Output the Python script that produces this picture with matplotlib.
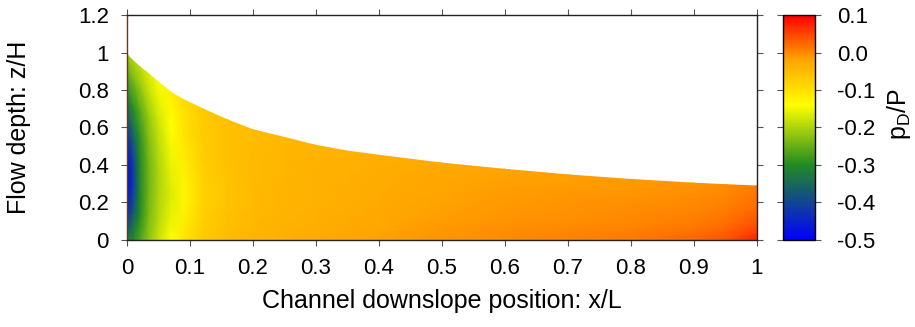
import numpy as np
import matplotlib
matplotlib.use("Agg")
import matplotlib.pyplot as plt
from matplotlib.colors import LinearSegmentedColormap, Normalize
from matplotlib.cm import ScalarMappable

plt.rcParams['font.family'] = ['Liberation Sans', 'DejaVu Sans']
plt.rcParams['mathtext.fontset'] = 'custom'
plt.rcParams['mathtext.rm'] = 'Liberation Sans'
plt.rcParams['mathtext.it'] = 'Liberation Sans'

# Downslope stations x/L and free-surface height z/H at each station
x_stations = [0.0, 0.01, 0.02, 0.035, 0.05, 0.07, 0.09, 0.12, 0.16, 0.2, 0.25,
              0.3, 0.35, 0.4, 0.5, 0.6, 0.7, 0.8, 0.9, 0.95, 1.0]
surface_height = [0.99, 0.955, 0.925, 0.885, 0.842, 0.787, 0.748, 0.70, 0.64, 0.588, 0.547,
                  0.505, 0.474, 0.452, 0.41, 0.377, 0.347, 0.323, 0.303, 0.295, 0.288]

# Fraction of local flow depth (bed = 0, free surface = 1)
depth_fraction = [0.0, 0.15, 0.3, 0.45, 0.6, 0.75, 0.9, 1.0]

# Dynamic pressure p_D/P, one profile (bed -> surface) per station
pressure_profiles = [
    [-0.33, -0.44, -0.50, -0.48, -0.41, -0.33, -0.26, -0.21],
    [-0.30, -0.37, -0.41, -0.40, -0.35, -0.29, -0.235, -0.20],
    [-0.27, -0.30, -0.31, -0.305, -0.29, -0.26, -0.215, -0.19],
    [-0.22, -0.235, -0.24, -0.24, -0.23, -0.21, -0.18, -0.165],
    [-0.18, -0.195, -0.20, -0.20, -0.19, -0.175, -0.155, -0.145],
    [-0.14, -0.155, -0.165, -0.16, -0.15, -0.14, -0.13, -0.12],
    [-0.105, -0.12, -0.13, -0.125, -0.115, -0.105, -0.10, -0.095],
    [-0.07, -0.078, -0.082, -0.08, -0.076, -0.073, -0.072, -0.07],
    [-0.052, -0.056, -0.06, -0.06, -0.058, -0.058, -0.058, -0.058],
    [-0.042, -0.046, -0.049, -0.05, -0.05, -0.05, -0.051, -0.052],
    [-0.034, -0.038, -0.041, -0.042, -0.043, -0.044, -0.045, -0.046],
    [-0.028, -0.032, -0.035, -0.036, -0.037, -0.038, -0.04, -0.041],
    [-0.023, -0.027, -0.03, -0.032, -0.033, -0.034, -0.036, -0.037],
    [-0.018, -0.022, -0.026, -0.028, -0.03, -0.031, -0.033, -0.034],
    [-0.008, -0.012, -0.016, -0.019, -0.021, -0.023, -0.026, -0.028],
    [-0.001, -0.005, -0.009, -0.012, -0.014, -0.016, -0.019, -0.021],
    [0.005, 0.0, -0.004, -0.007, -0.009, -0.012, -0.015, -0.017],
    [0.012, 0.006, 0.001, -0.002, -0.005, -0.008, -0.011, -0.014],
    [0.026, 0.016, 0.009, 0.004, 0.0, -0.003, -0.007, -0.009],
    [0.041, 0.029, 0.019, 0.013, 0.007, 0.003, -0.001, -0.003],
    [0.075, 0.055, 0.04, 0.03, 0.022, 0.016, 0.012, 0.01],
]

x_ticks = [0.0, 0.1, 0.2, 0.3, 0.4, 0.5, 0.6, 0.7, 0.8, 0.9, 1.0]
x_tick_labels = ['0', '0.1', '0.2', '0.3', '0.4', '0.5', '0.6', '0.7', '0.8', '0.9', '1']
z_ticks = [0.0, 0.2, 0.4, 0.6, 0.8, 1.0, 1.2]
z_tick_labels = ['0', '0.2', '0.4', '0.6', '0.8', '1', '1.2']
cbar_ticks = [-0.5, -0.4, -0.3, -0.2, -0.1, 0.0, 0.1]
cbar_tick_labels = ['-0.5', '-0.4', '-0.3', '-0.2', '-0.1', '0.0', '0.1']

# Palette: blue -> forest green -> yellow -> orange -> red over [-0.5, 0.1]
vmin, vmax = -0.5, 0.1
palette_stops = [(-0.5, '#0000ff'), (-0.3, '#228b22'), (-0.14, '#ffff00'),
                 (-0.02, '#ffa500'), (0.1, '#ff0000')]
cmap = LinearSegmentedColormap.from_list(
    'pd', [((v - vmin) / (vmax - vmin), c) for v, c in palette_stops])
norm = Normalize(vmin=vmin, vmax=vmax)

TICK_FS = 16
LABEL_FS = 18

fig = plt.figure(figsize=(9.15, 3.27), dpi=100)
ax = fig.add_axes([0.1388, 0.2661, 0.8273 - 0.1388, 0.9541 - 0.2661])
cax = fig.add_axes([0.8557, 0.2661, 0.8907 - 0.8557, 0.9541 - 0.2661])

xs = np.asarray(x_stations)
hs = np.asarray(surface_height)
sig = np.asarray(depth_fraction)
X = np.tile(xs, (len(sig), 1))
Z = np.outer(sig, hs)
V = np.asarray(pressure_profiles).T

ax.pcolormesh(X, Z, V, shading='gouraud', cmap=cmap, norm=norm, zorder=1)

ax.set_xlim(0, 1)
ax.set_ylim(0, 1.2)
ax.set_xticks(x_ticks)
ax.set_xticklabels(x_tick_labels)
ax.set_yticks(z_ticks)
ax.set_yticklabels(z_tick_labels)
ax.tick_params(direction='out', length=4, width=0.8, color='#555555', labelsize=TICK_FS,
               top=True, right=True)
ax.tick_params(axis='x', pad=9)
ax.tick_params(axis='y', pad=9)
for s in ax.spines.values():
    s.set_linewidth(1.0)
    s.set_color('#222222')
    s.set_zorder(3)
ax.spines['left'].set_color('#6b351c')
ax.set_xlabel('Channel downslope position: x/L', fontsize=LABEL_FS)
ax.xaxis.set_label_coords(0.5, -0.22)
ax.set_ylabel('Flow depth: z/H', fontsize=LABEL_FS)
ax.yaxis.set_label_coords(-0.152, 0.5)

cb = fig.colorbar(ScalarMappable(norm=norm, cmap=cmap), cax=cax)
cb.set_ticks(cbar_ticks)
cb.set_ticklabels(cbar_tick_labels)
cb.ax.tick_params(direction='out', length=4, width=0.8, color='#555555', labelsize=TICK_FS,
                  left=True, right=True, pad=12)
cb.outline.set_linewidth(1.0)
cb.set_label(r'p$_\mathrm{D}$/P', fontsize=LABEL_FS)
cb.ax.yaxis.set_label_coords(3.2, 0.56)

fig.savefig('out.png', dpi=100)
